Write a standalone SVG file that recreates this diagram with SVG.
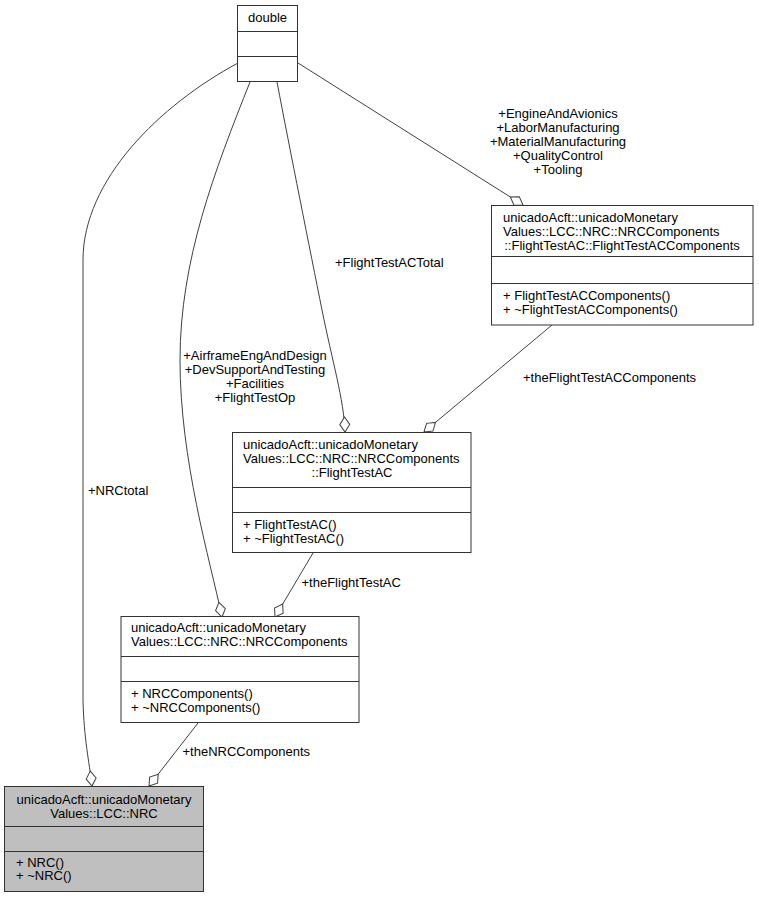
<svg xmlns="http://www.w3.org/2000/svg" width="759" height="897" viewBox="0 0 759 897">
<style>
text{font-family:"Liberation Sans",Arial,sans-serif;font-size:13px;fill:#000}
.m{text-anchor:middle}
.box{fill:#fff;stroke:#333;stroke-width:1}
.hl{fill:#bfbfbf}
.sep{stroke:#333;stroke-width:1;fill:none}
.edge{fill:none;stroke:#404040;stroke-width:1;marker-end:url(#dia)}
</style>
<defs>
<marker id="dia" markerUnits="userSpaceOnUse" markerWidth="20" markerHeight="14" viewBox="-1 -7 18 14" refX="15" refY="0" orient="auto" overflow="visible">
<path d="M0,0 L7.5,-5 L15,0 L7.5,5 Z" fill="#fff" stroke="#404040" stroke-width="1"/>
</marker>
</defs>
<rect width="759" height="897" fill="#fff"/>
<g id="connectors">
<path class="edge" d="M238,63 C160,105 83,180 83,260 L83,700 C84,740 89,760 92,786"/>
<path class="edge" d="M250,82 C215,170 180,260 180,360 C180,460 210,560 222,617"/>
<path class="edge" d="M277,82 C290,150 310,250 322,310 C332,360 344,400 345,432"/>
<path class="edge" d="M298,63 L523,205"/>
<path class="edge" d="M552,325 L424,432"/>
<path class="edge" d="M313,553 L275,617"/>
<path class="edge" d="M198,723 L149,786"/>
<text x="88" y="495">+NRCtotal</text>
<text class="m" x="255" y="360">+AirframeEngAndDesign</text>
<text class="m" x="255" y="374">+DevSupportAndTesting</text>
<text class="m" x="255" y="388">+Facilities</text>
<text class="m" x="255" y="402">+FlightTestOp</text>
<text x="335" y="267">+FlightTestACTotal</text>
<text class="m" x="558" y="117.5">+EngineAndAvionics</text>
<text class="m" x="558" y="131.5">+LaborManufacturing</text>
<text class="m" x="558" y="145.5">+MaterialManufacturing</text>
<text class="m" x="558" y="159.5">+QualityControl</text>
<text class="m" x="558" y="173.5">+Tooling</text>
<text x="523" y="381.5">+theFlightTestACComponents</text>
<text x="301.5" y="586.5">+theFlightTestAC</text>
<text x="182.5" y="756">+theNRCComponents</text>
</g>
<g id="double">
<rect class="box" x="237.5" y="5.5" width="60" height="76"/>
<path class="sep" d="M237.5,31.5 H297.5 M237.5,56.5 H297.5"/>
<text class="m" x="267.5" y="22">double</text>
</g>
<g id="FlightTestACComponents">
<rect class="box" x="491.5" y="205.5" width="261.5" height="119.5"/>
<path class="sep" d="M491.5,256.5 H753 M491.5,283.5 H753"/>
<text x="503" y="222">unicadoAcft::unicadoMonetary</text>
<text x="503" y="236">Values::LCC::NRC::NRCComponents</text>
<text class="m" x="622" y="250">::FlightTestAC::FlightTestACComponents</text>
<text x="503" y="300">+ FlightTestACComponents()</text>
<text x="503" y="314">+ ~FlightTestACComponents()</text>
</g>
<g id="FlightTestAC">
<rect class="box" x="232.5" y="432.5" width="238.5" height="120"/>
<path class="sep" d="M232.5,487.5 H471 M232.5,512.5 H471"/>
<text x="243" y="448.5">unicadoAcft::unicadoMonetary</text>
<text x="243" y="462.5">Values::LCC::NRC::NRCComponents</text>
<text class="m" x="352" y="476.5">::FlightTestAC</text>
<text x="243" y="529">+ FlightTestAC()</text>
<text x="243" y="542.5">+ ~FlightTestAC()</text>
</g>
<g id="NRCComponents">
<rect class="box" x="121" y="616.5" width="238" height="106"/>
<path class="sep" d="M121,656.5 H359 M121,681.5 H359"/>
<text x="131" y="632">unicadoAcft::unicadoMonetary</text>
<text x="131" y="646">Values::LCC::NRC::NRCComponents</text>
<text x="131" y="697.5">+ NRCComponents()</text>
<text x="131" y="711.5">+ ~NRCComponents()</text>
</g>
<g id="NRC">
<rect class="box hl" x="4.5" y="786.5" width="199" height="105"/>
<path class="sep" d="M4.5,826.5 H203.5 M4.5,851.5 H203.5"/>
<text class="m" x="104" y="804">unicadoAcft::unicadoMonetary</text>
<text class="m" x="104" y="818">Values::LCC::NRC</text>
<text x="16" y="866.5">+ NRC()</text>
<text x="16" y="880">+ ~NRC()</text>
</g>
</svg>
